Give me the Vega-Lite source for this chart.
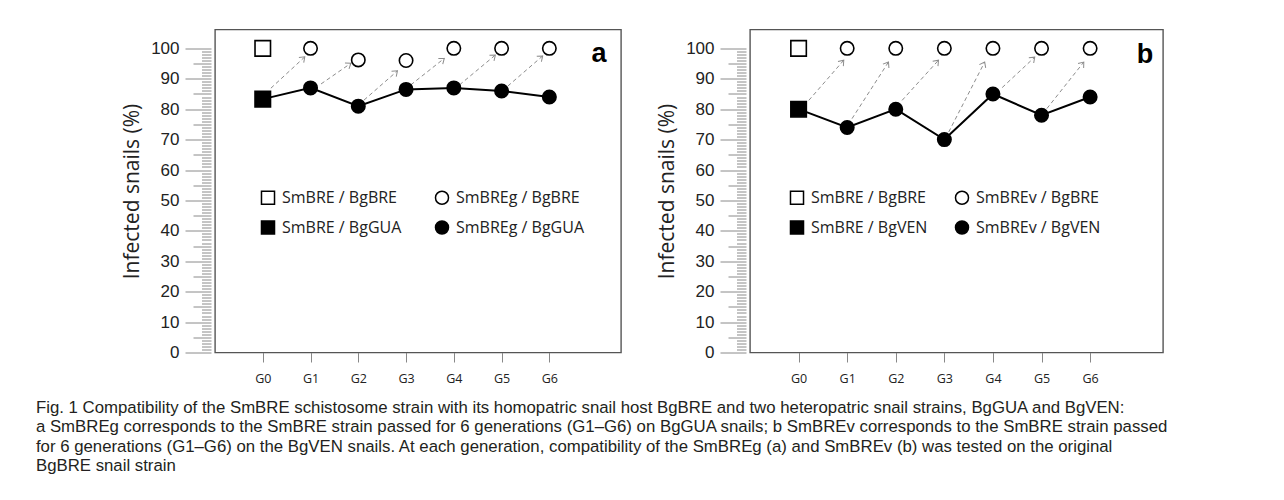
{
  "$schema": "https://vega.github.io/schema/vega-lite/v6.json",
  "background": "white",
  "padding": {"left": 35, "top": 28.5, "right": 0, "bottom": 0},
  "config": {
    "view": {"stroke": "#555555", "strokeWidth": 1.4},
    "font": "Open Sans"
  },
  "datasets": {
    "points": [
      {"panel": "a", "gen": 0, "value": 100, "series": "SmBRE / BgBRE", "line": false},
      {"panel": "a", "gen": 0, "value": 83.3, "series": "SmBRE / BgGUA", "line": true},
      {"panel": "a", "gen": 1, "value": 100, "series": "SmBREg / BgBRE", "line": false},
      {"panel": "a", "gen": 2, "value": 96.2, "series": "SmBREg / BgBRE", "line": false},
      {"panel": "a", "gen": 3, "value": 96, "series": "SmBREg / BgBRE", "line": false},
      {"panel": "a", "gen": 4, "value": 100, "series": "SmBREg / BgBRE", "line": false},
      {"panel": "a", "gen": 5, "value": 100, "series": "SmBREg / BgBRE", "line": false},
      {"panel": "a", "gen": 6, "value": 100, "series": "SmBREg / BgBRE", "line": false},
      {"panel": "a", "gen": 1, "value": 87, "series": "SmBREg / BgGUA", "line": true},
      {"panel": "a", "gen": 2, "value": 81, "series": "SmBREg / BgGUA", "line": true},
      {"panel": "a", "gen": 3, "value": 86.5, "series": "SmBREg / BgGUA", "line": true},
      {"panel": "a", "gen": 4, "value": 87, "series": "SmBREg / BgGUA", "line": true},
      {"panel": "a", "gen": 5, "value": 86, "series": "SmBREg / BgGUA", "line": true},
      {"panel": "a", "gen": 6, "value": 84, "series": "SmBREg / BgGUA", "line": true},
      {"panel": "b", "gen": 0, "value": 100, "series": "SmBRE / BgBRE", "line": false},
      {"panel": "b", "gen": 0, "value": 80, "series": "SmBRE / BgVEN", "line": true},
      {"panel": "b", "gen": 1, "value": 100, "series": "SmBREv / BgBRE", "line": false},
      {"panel": "b", "gen": 2, "value": 100, "series": "SmBREv / BgBRE", "line": false},
      {"panel": "b", "gen": 3, "value": 100, "series": "SmBREv / BgBRE", "line": false},
      {"panel": "b", "gen": 4, "value": 100, "series": "SmBREv / BgBRE", "line": false},
      {"panel": "b", "gen": 5, "value": 100, "series": "SmBREv / BgBRE", "line": false},
      {"panel": "b", "gen": 6, "value": 100, "series": "SmBREv / BgBRE", "line": false},
      {"panel": "b", "gen": 1, "value": 74, "series": "SmBREv / BgVEN", "line": true},
      {"panel": "b", "gen": 2, "value": 80, "series": "SmBREv / BgVEN", "line": true},
      {"panel": "b", "gen": 3, "value": 70, "series": "SmBREv / BgVEN", "line": true},
      {"panel": "b", "gen": 4, "value": 85, "series": "SmBREv / BgVEN", "line": true},
      {"panel": "b", "gen": 5, "value": 78, "series": "SmBREv / BgVEN", "line": true},
      {"panel": "b", "gen": 6, "value": 84, "series": "SmBREv / BgVEN", "line": true}
    ],
    "arrows": [
      {"panel": "a", "x1": 0.17, "y1": 86.9, "x2": 0.88, "y2": 97.2},
      {"panel": "a", "x1": 1.22, "y1": 88.3, "x2": 1.845, "y2": 95.1},
      {"panel": "a", "x1": 2.12, "y1": 83.0, "x2": 2.82, "y2": 92.6},
      {"panel": "a", "x1": 3.10, "y1": 88.0, "x2": 3.80, "y2": 96.7},
      {"panel": "a", "x1": 4.12, "y1": 88.0, "x2": 4.87, "y2": 97.8},
      {"panel": "a", "x1": 5.13, "y1": 87.6, "x2": 5.86, "y2": 97.5},
      {"panel": "b", "x1": 0.21, "y1": 82.9, "x2": 0.93, "y2": 96.1},
      {"panel": "b", "x1": 1.10, "y1": 76.9, "x2": 1.85, "y2": 95.5},
      {"panel": "b", "x1": 2.13, "y1": 82.9, "x2": 2.88, "y2": 96.1},
      {"panel": "b", "x1": 3.09, "y1": 72.5, "x2": 3.83, "y2": 95.5},
      {"panel": "b", "x1": 4.19, "y1": 87.1, "x2": 4.86, "y2": 97.1},
      {"panel": "b", "x1": 5.11, "y1": 80.2, "x2": 5.87, "y2": 95.5}
    ],
    "labels": [
      {"panel": "a", "label": "a", "x": 7.04, "y": 95.6},
      {"panel": "b", "label": "b", "x": 7.13, "y": 95.3}
    ]
  },
  "title": {
    "text": [
      "Fig. 1  Compatibility of the SmBRE schistosome strain with its homopatric snail host BgBRE and two heteropatric snail strains, BgGUA and BgVEN:",
      "a SmBREg corresponds to the SmBRE strain passed for 6 generations (G1–G6) on BgGUA snails; b SmBREv corresponds to the SmBRE strain passed",
      "for 6 generations (G1–G6) on the BgVEN snails. At each generation, compatibility of the SmBREg (a) and SmBREv (b) was tested on the original",
      "BgBRE snail strain"
    ],
    "orient": "bottom",
    "anchor": "start",
    "frame": "bounds",
    "dx": -85,
    "offset": 15,
    "font": "Liberation Sans",
    "fontSize": 16.8,
    "fontWeight": "normal",
    "color": "#231f20",
    "lineHeight": 19.3,
    "baseline": "top"
  },
  "spacing": 33,
  "resolve": {
    "scale": {"x": "independent", "y": "independent", "shape": "independent", "fill": "independent", "stroke": "independent"},
    "axis": {"x": "independent", "y": "independent"},
    "legend": {"shape": "independent", "fill": "independent", "stroke": "independent"}
  },
  "hconcat": [
    {
      "width": 406,
      "height": 323,
      "layer": [
        {
          "data": {"name": "points"},
          "transform": [{"filter": "datum.panel === 'a' && datum.line"}],
          "mark": {"type": "line", "color": "black", "strokeWidth": 2},
          "encoding": {
            "x": {"field": "gen", "type": "quantitative", "scale": {"domain": [-1, 7.5], "nice": false, "zero": false},
              "axis": {"values": [0, 1, 2, 3, 4, 5, 6], "labelExpr": "'G' + datum.value", "domain": false, "grid": false, "tickSize": 9.5, "tickColor": "#888888", "labelFont": "Open Sans", "labelFontSize": 12.5, "labelColor": "#222222", "labelPadding": 10, "title": null}},
            "y": {"field": "value", "type": "quantitative", "scale": {"domain": [0, 106.2], "nice": false},
              "axis": {
                "values": [0,1,2,3,4,5,6,7,8,9,10,11,12,13,14,15,16,17,18,19,20,21,22,23,24,25,26,27,28,29,30,31,32,33,34,35,36,37,38,39,40,41,42,43,44,45,46,47,48,49,50,51,52,53,54,55,56,57,58,59,60,61,62,63,64,65,66,67,68,69,70,71,72,73,74,75,76,77,78,79,80,81,82,83,84,85,86,87,88,89,90,91,92,93,94,95,96,97,98,99,100],
                "tickCount": 300,
                "domain": false, "grid": false, "offset": 4,
                "tickColor": "#8a8a8a", "tickWidth": 1,
                "tickSize": {"condition": [{"test": "datum.value % 10 === 0", "value": 26}, {"test": "datum.value % 5 === 0", "value": 18}], "value": 9.5},
                "labelExpr": "datum.value % 10 === 0 ? format(datum.value, 'd') : ''",
                "labelOverlap": false, "labelBound": false,
                "labelFont": "Liberation Sans", "labelFontSize": 17, "labelColor": "#222222", "labelPadding": 6,
                "title": "Infected snails (%)", "titleFont": "Open Sans", "titleFontSize": 21, "titleFontWeight": "normal", "titleColor": "#222222", "titlePadding": 8
              }},
            "order": {"field": "gen"}
          }
        },
        {
          "data": {"name": "arrows"},
          "transform": [{"filter": "datum.panel === 'a'"}],
          "mark": {"type": "rule", "color": "#8c8c8c", "strokeWidth": 1, "strokeDash": [4, 3]},
          "encoding": {
            "x": {"field": "x1", "type": "quantitative"},
            "y": {"field": "y1", "type": "quantitative"},
            "x2": {"field": "x2"},
            "y2": {"field": "y2"}
          }
        },
        {
          "data": {"name": "arrows"},
          "transform": [
            {"filter": "datum.panel === 'a'"},
            {"calculate": "atan2((datum.x2 - datum.x1) * 47.76, (datum.y2 - datum.y1) * 3.041) * 180 / PI", "as": "ang"}
          ],
          "mark": {"type": "point", "shape": "M -0.75 1 L 0 0 L 0.75 1", "filled": false, "stroke": "#8c8c8c", "strokeWidth": 1, "size": 90, "opacity": 1},
          "encoding": {
            "x": {"field": "x2", "type": "quantitative"},
            "y": {"field": "y2", "type": "quantitative"},
            "angle": {"field": "ang", "type": "quantitative", "scale": null}
          }
        },
        {
          "data": {"name": "points"},
          "transform": [{"filter": "datum.panel === 'a'"}],
          "mark": {"type": "point", "filled": true, "strokeWidth": 1.6, "opacity": 1},
          "encoding": {
            "x": {"field": "gen", "type": "quantitative"},
            "y": {"field": "value", "type": "quantitative"},
            "shape": {"field": "series", "type": "nominal",
              "scale": {"domain": ["SmBRE / BgBRE", "SmBRE / BgGUA", "SmBREg / BgBRE", "SmBREg / BgGUA"], "range": ["square", "square", "circle", "circle"]},
              "legend": {"title": null, "orient": "none", "legendX": 45, "legendY": 160, "columns": 2, "columnPadding": 30, "rowPadding": 10, "symbolSize": 170, "symbolStrokeWidth": 1.5, "labelFont": "Open Sans", "labelFontSize": 16, "labelColor": "#222222", "labelOffset": 6, "padding": 0, "labelLimit": 300}},
            "fill": {"field": "series", "type": "nominal",
              "scale": {"domain": ["SmBRE / BgBRE", "SmBRE / BgGUA", "SmBREg / BgBRE", "SmBREg / BgGUA"], "range": ["white", "black", "white", "black"]},
              "legend": {"title": null, "orient": "none", "legendX": 45, "legendY": 160, "columns": 2, "columnPadding": 30, "rowPadding": 10, "symbolSize": 170, "symbolStrokeWidth": 1.5, "labelFont": "Open Sans", "labelFontSize": 16, "labelColor": "#222222", "labelOffset": 6, "padding": 0, "labelLimit": 300}},
            "stroke": {"field": "series", "type": "nominal",
              "scale": {"domain": ["SmBRE / BgBRE", "SmBRE / BgGUA", "SmBREg / BgBRE", "SmBREg / BgGUA"], "range": ["black", "black", "black", "black"]},
              "legend": {"title": null, "orient": "none", "legendX": 45, "legendY": 160, "columns": 2, "columnPadding": 30, "rowPadding": 10, "symbolSize": 170, "symbolStrokeWidth": 1.5, "labelFont": "Open Sans", "labelFontSize": 16, "labelColor": "#222222", "labelOffset": 6, "padding": 0, "labelLimit": 300}},
            "size": {"condition": {"test": "datum.gen === 0", "value": 240}, "value": 180}
          }
        },
        {
          "data": {"name": "labels"},
          "transform": [{"filter": "datum.panel === 'a'"}],
          "mark": {"type": "text", "font": "Liberation Sans", "fontSize": 27, "fontWeight": "bold", "align": "center", "baseline": "alphabetic", "color": "black"},
          "encoding": {
            "x": {"field": "x", "type": "quantitative"},
            "y": {"field": "y", "type": "quantitative"},
            "text": {"field": "label"}
          }
        }
      ]
    },
    {
      "width": 413,
      "height": 323,
      "layer": [
        {
          "data": {"name": "points"},
          "transform": [{"filter": "datum.panel === 'b' && datum.line"}],
          "mark": {"type": "line", "color": "black", "strokeWidth": 2},
          "encoding": {
            "x": {"field": "gen", "type": "quantitative", "scale": {"domain": [-1, 7.5], "nice": false, "zero": false},
              "axis": {"values": [0, 1, 2, 3, 4, 5, 6], "labelExpr": "'G' + datum.value", "domain": false, "grid": false, "tickSize": 9.5, "tickColor": "#888888", "labelFont": "Open Sans", "labelFontSize": 12.5, "labelColor": "#222222", "labelPadding": 10, "title": null}},
            "y": {"field": "value", "type": "quantitative", "scale": {"domain": [0, 106.2], "nice": false},
              "axis": {
                "values": [0,1,2,3,4,5,6,7,8,9,10,11,12,13,14,15,16,17,18,19,20,21,22,23,24,25,26,27,28,29,30,31,32,33,34,35,36,37,38,39,40,41,42,43,44,45,46,47,48,49,50,51,52,53,54,55,56,57,58,59,60,61,62,63,64,65,66,67,68,69,70,71,72,73,74,75,76,77,78,79,80,81,82,83,84,85,86,87,88,89,90,91,92,93,94,95,96,97,98,99,100],
                "tickCount": 300,
                "domain": false, "grid": false, "offset": 4,
                "tickColor": "#8a8a8a", "tickWidth": 1,
                "tickSize": {"condition": [{"test": "datum.value % 10 === 0", "value": 26}, {"test": "datum.value % 5 === 0", "value": 18}], "value": 9.5},
                "labelExpr": "datum.value % 10 === 0 ? format(datum.value, 'd') : ''",
                "labelOverlap": false, "labelBound": false,
                "labelFont": "Liberation Sans", "labelFontSize": 17, "labelColor": "#222222", "labelPadding": 6,
                "title": "Infected snails (%)", "titleFont": "Open Sans", "titleFontSize": 21, "titleFontWeight": "normal", "titleColor": "#222222", "titlePadding": 8
              }},
            "order": {"field": "gen"}
          }
        },
        {
          "data": {"name": "arrows"},
          "transform": [{"filter": "datum.panel === 'b'"}],
          "mark": {"type": "rule", "color": "#8c8c8c", "strokeWidth": 1, "strokeDash": [4, 3]},
          "encoding": {
            "x": {"field": "x1", "type": "quantitative"},
            "y": {"field": "y1", "type": "quantitative"},
            "x2": {"field": "x2"},
            "y2": {"field": "y2"}
          }
        },
        {
          "data": {"name": "arrows"},
          "transform": [
            {"filter": "datum.panel === 'b'"},
            {"calculate": "atan2((datum.x2 - datum.x1) * 48.59, (datum.y2 - datum.y1) * 3.041) * 180 / PI", "as": "ang"}
          ],
          "mark": {"type": "point", "shape": "M -0.75 1 L 0 0 L 0.75 1", "filled": false, "stroke": "#8c8c8c", "strokeWidth": 1, "size": 90, "opacity": 1},
          "encoding": {
            "x": {"field": "x2", "type": "quantitative"},
            "y": {"field": "y2", "type": "quantitative"},
            "angle": {"field": "ang", "type": "quantitative", "scale": null}
          }
        },
        {
          "data": {"name": "points"},
          "transform": [{"filter": "datum.panel === 'b'"}],
          "mark": {"type": "point", "filled": true, "strokeWidth": 1.6, "opacity": 1},
          "encoding": {
            "x": {"field": "gen", "type": "quantitative"},
            "y": {"field": "value", "type": "quantitative"},
            "shape": {"field": "series", "type": "nominal",
              "scale": {"domain": ["SmBRE / BgBRE", "SmBRE / BgVEN", "SmBREv / BgBRE", "SmBREv / BgVEN"], "range": ["square", "square", "circle", "circle"]},
              "legend": {"title": null, "orient": "none", "legendX": 39, "legendY": 160, "columns": 2, "columnPadding": 24, "rowPadding": 10, "symbolSize": 170, "symbolStrokeWidth": 1.5, "labelFont": "Open Sans", "labelFontSize": 16, "labelColor": "#222222", "labelOffset": 6, "padding": 0, "labelLimit": 300}},
            "fill": {"field": "series", "type": "nominal",
              "scale": {"domain": ["SmBRE / BgBRE", "SmBRE / BgVEN", "SmBREv / BgBRE", "SmBREv / BgVEN"], "range": ["white", "black", "white", "black"]},
              "legend": {"title": null, "orient": "none", "legendX": 39, "legendY": 160, "columns": 2, "columnPadding": 24, "rowPadding": 10, "symbolSize": 170, "symbolStrokeWidth": 1.5, "labelFont": "Open Sans", "labelFontSize": 16, "labelColor": "#222222", "labelOffset": 6, "padding": 0, "labelLimit": 300}},
            "stroke": {"field": "series", "type": "nominal",
              "scale": {"domain": ["SmBRE / BgBRE", "SmBRE / BgVEN", "SmBREv / BgBRE", "SmBREv / BgVEN"], "range": ["black", "black", "black", "black"]},
              "legend": {"title": null, "orient": "none", "legendX": 39, "legendY": 160, "columns": 2, "columnPadding": 24, "rowPadding": 10, "symbolSize": 170, "symbolStrokeWidth": 1.5, "labelFont": "Open Sans", "labelFontSize": 16, "labelColor": "#222222", "labelOffset": 6, "padding": 0, "labelLimit": 300}},
            "size": {"condition": {"test": "datum.gen === 0", "value": 240}, "value": 180}
          }
        },
        {
          "data": {"name": "labels"},
          "transform": [{"filter": "datum.panel === 'b'"}],
          "mark": {"type": "text", "font": "Liberation Sans", "fontSize": 27, "fontWeight": "bold", "align": "center", "baseline": "alphabetic", "color": "black"},
          "encoding": {
            "x": {"field": "x", "type": "quantitative"},
            "y": {"field": "y", "type": "quantitative"},
            "text": {"field": "label"}
          }
        }
      ]
    }
  ]
}
